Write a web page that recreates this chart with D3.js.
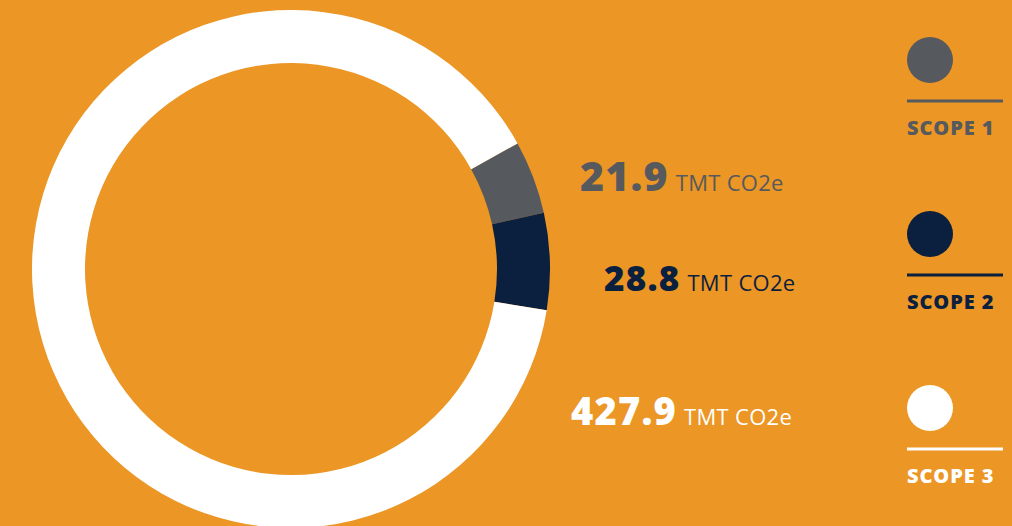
<!DOCTYPE html>
<html>
<head>
<meta charset="utf-8">
<script src="https://cdn.jsdelivr.net/npm/d3@7"></script>
<style>
  html, body { margin: 0; padding: 0; background: #EB9625; overflow: hidden; }
  #vis svg { display: block; }
</style>
</head>
<body>
<div id="vis"></div>
<script>
// data
let scopes = ["SCOPE 1", "SCOPE 2", "SCOPE 3"];
let values = [21.9, 28.8, 427.9];
let unit = "TMT CO2e";
let colors = ["#565A5E", "#0B1F3F", "#FFFFFF"];

// where each value label sits (layout only)
let labelX = [580, 604, 571];
let labelY = [191, 291, 425];
let labelSize = [41, 35, 38];

let width = 1012, height = 526;
let cx = 291, cy = 269, outerR = 259, innerR = 206;

document.addEventListener("DOMContentLoaded", function(){
  drawDonut();
});

function drawDonut(){
  let svg = d3.select("#vis").append("svg")
      .attr("width", width)
      .attr("height", height);

  svg.append("rect")
      .attr("width", width)
      .attr("height", height)
      .attr("fill", "#EB9625");

  let start = 61 * Math.PI / 180;
  let pie = d3.pie()
      .sort(null)
      .startAngle(start)
      .endAngle(start + 2 * Math.PI);

  let arc = d3.arc()
      .innerRadius(innerR)
      .outerRadius(outerR);

  svg.append("g")
      .attr("transform", "translate(" + cx + "," + cy + ")")
    .selectAll("path")
      .data(pie(values))
      .enter().append("path")
      .attr("d", arc)
      .attr("fill", (d, i) => colors[i]);

  // value labels
  let labels = svg.selectAll("text.val")
      .data(values)
      .enter().append("text")
      .attr("class", "val")
      .attr("x", (d, i) => labelX[i])
      .attr("y", (d, i) => labelY[i])
      .attr("fill", (d, i) => colors[i])
      .style("font-family", "'Open Sans', sans-serif");

  labels.append("tspan")
      .style("font-weight", 800)
      .style("font-size", (d, i) => labelSize[i] + "px")
      .style("letter-spacing", "1.2px")
      .text(d => d3.format(".1f")(d));

  labels.append("tspan")
      .attr("dx", 7)
      .style("font-weight", 400)
      .style("font-size", "22px")
      .style("letter-spacing", "0.3px")
      .text(unit);

  // legend
  let y = d3.scalePoint()
      .domain(scopes)
      .range([60, 408]);

  let legend = svg.selectAll("g.legend")
      .data(scopes)
      .enter().append("g")
      .attr("class", "legend")
      .attr("transform", d => "translate(907," + y(d) + ")");

  legend.append("circle")
      .attr("cx", 23)
      .attr("cy", 0)
      .attr("r", 23)
      .attr("fill", (d, i) => colors[i]);

  legend.append("line")
      .attr("x1", 0)
      .attr("x2", 96)
      .attr("y1", 41)
      .attr("y2", 41)
      .attr("stroke", (d, i) => colors[i])
      .attr("stroke-width", 3);

  legend.append("text")
      .attr("x", 0)
      .attr("y", 75)
      .attr("fill", (d, i) => colors[i])
      .style("font-family", "'Open Sans', sans-serif")
      .style("font-weight", 800)
      .style("font-size", "20px")
      .style("letter-spacing", "0.9px")
      .text(d => d);
}
</script>
</body>
</html>
